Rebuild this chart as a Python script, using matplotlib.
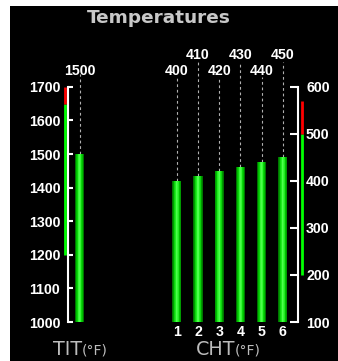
import matplotlib
matplotlib.use('Agg')
import matplotlib.pyplot as plt
from matplotlib.patches import Rectangle
import matplotlib.transforms as mtrans

# ---------------- data ----------------
tit_value = 1500
tit_ticks = [1000, 1100, 1200, 1300, 1400, 1500, 1600, 1700]
tit_green = (1200, 1650)
tit_red = (1650, 1700)

cht_cyl = [1, 2, 3, 4, 5, 6]
cht_values = [400, 410, 420, 430, 440, 450]
cht_ticks = [100, 200, 300, 400, 500, 600]
cht_green = (200, 500)
cht_red = (500, 570)

# ---------------- layout ----------------
W, H, DPI = 338, 361, 100
fig = plt.figure(figsize=(W / DPI, H / DPI), dpi=DPI, facecolor='white')
fig.patches.append(Rectangle((10 / W, 0), 1 - 10 / W, (H - 6) / H,
                             transform=fig.transFigure, facecolor='black',
                             edgecolor='none', zorder=-10))

def px_rect(x0, x1, ytop, ybot):
    return [x0 / W, (H - ybot) / H, (x1 - x0) / W, (ybot - ytop) / H]

YTOP, YBOT = 86.8, 322.0
SP = 21.2  # pixels per bar slot
BW = 0.43
FONT = 'Liberation Sans'
TICKFS = 10.2

ax1 = fig.add_axes(px_rect(68, 108, YTOP, YBOT))
ax1.set_xlim(-(79.5 - 68) / SP, (108 - 79.5) / SP)
ax1.set_ylim(tit_ticks[0], tit_ticks[-1])

ax2 = fig.add_axes(px_rect(160, 297.7, YTOP, YBOT))
ax2.set_xlim(1 - (176.8 - 160) / SP, 1 + (297.7 - 176.8) / SP)
ax2.set_ylim(cht_ticks[0], cht_ticks[-1])

for ax in (ax1, ax2):
    ax.set_facecolor('none')
    for s in ax.spines.values():
        s.set_visible(False)

# TIT axis
ax1.spines['left'].set_visible(True)
ax1.spines['left'].set_color('white')
ax1.spines['left'].set_linewidth(1.5)
ax1.set_yticks(tit_ticks)
ax1.set_yticklabels([str(t) for t in tit_ticks], fontfamily=FONT,
                    fontweight='bold', fontsize=TICKFS)
ax1.tick_params(axis='y', direction='in', length=3.8, width=1.5,
                color='white', labelcolor='white', pad=5.5)
ax1.set_xticks([])

# CHT axis
ax2.spines['right'].set_visible(True)
ax2.spines['right'].set_color('white')
ax2.spines['right'].set_linewidth(1.5)
ax2.yaxis.set_ticks_position('right')
ax2.yaxis.set_label_position('right')
ax2.set_yticks(cht_ticks)
ax2.set_yticklabels([str(t) for t in cht_ticks], fontfamily=FONT,
                    fontweight='bold', fontsize=TICKFS)
ax2.tick_params(axis='y', direction='in', length=6, width=1.5,
                color='white', labelcolor='white', pad=6)
ax2.set_xticks(cht_cyl)
ax2.set_xticklabels([str(c) for c in cht_cyl], fontfamily=FONT,
                    fontweight='bold', fontsize=TICKFS)
ax2.tick_params(axis='x', length=0, labelcolor='white', pad=2.5)

# gradient bars (layered)
layers = [(1.00, '#007400'), (0.85, '#009a00'), (0.70, '#00bc00'),
          (0.55, '#0ad60a'), (0.40, '#20ea20'), (0.25, '#36f836'),
          (0.12, '#4cff4c')]

def gbars(ax, xs, vals, base):
    for f, c in layers:
        ax.bar(xs, [v - base for v in vals], bottom=base, width=BW * f,
               color=c, linewidth=0, zorder=3)

gbars(ax1, [0], [tit_value], tit_ticks[0])
gbars(ax2, cht_cyl, cht_values, cht_ticks[0])

# dashed leaders + value labels
def frac_to_data(ax, f):
    y0, y1 = ax.get_ylim()
    return y0 + f * (y1 - y0)

def label(ax, x, v, fy_line, fy_text):
    ax.vlines(x, v, frac_to_data(ax, fy_line), colors='#b0b0b0',
              linestyles=(0, (2.5, 2.5)), linewidth=0.8, clip_on=False, zorder=2)
    ax.text(x, fy_text, str(v), transform=mtrans.blended_transform_factory(
        ax.transData, ax.transAxes), ha='center', va='center', color='white',
        fontfamily=FONT, fontweight='bold', fontsize=TICKFS, clip_on=False)

label(ax1, 0, tit_value, 1.055, 1.069)
for i, (c, v) in enumerate(zip(cht_cyl, cht_values)):
    if i % 2 == 0:
        label(ax2, c, v, 1.043, 1.069)
    else:
        label(ax2, c, v, 1.106, 1.136)

# range strips
x1s = -(79.5 - 64.5) / SP
ax1.vlines(x1s, *tit_green, colors='#00ff00', linewidth=2.0, clip_on=False)
ax1.vlines(x1s, *tit_red, colors='#ff0000', linewidth=2.0, clip_on=False)
x2s = 1 + (302 - 176.8) / SP
ax2.vlines(x2s, *cht_green, colors='#00ff00', linewidth=2.0, clip_on=False)
ax2.vlines(x2s, *cht_red, colors='#ff0000', linewidth=2.0, clip_on=False)

# titles
fig.text(159 / W, (H - 18) / H, 'Temperatures', ha='center', va='center',
         color='#c8c8c8', fontweight='bold', fontsize=13.3)
GRAY = '#bcbcbc'
fig.text(82 / W, (H - 355) / H, 'TIT', ha='right', va='baseline', color=GRAY,
         fontsize=13.8)
fig.text(82 / W, (H - 355) / H, '(°F)', ha='left', va='baseline', color=GRAY,
         fontsize=10)
fig.text(235 / W, (H - 355) / H, 'CHT', ha='right', va='baseline', color=GRAY,
         fontsize=13.8)
fig.text(235 / W, (H - 355) / H, '(°F)', ha='left', va='baseline', color=GRAY,
         fontsize=10)

fig.savefig('out.png', dpi=DPI, facecolor='white')
